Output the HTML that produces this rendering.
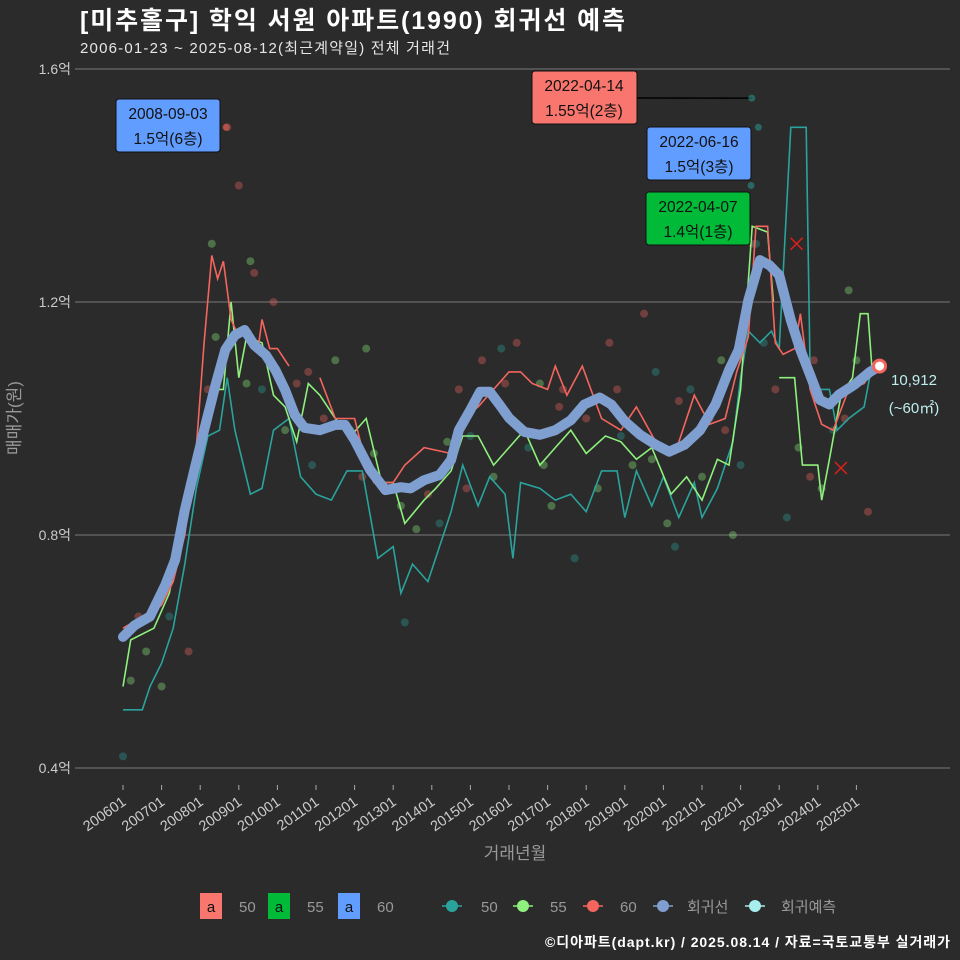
<!DOCTYPE html>
<html><head><meta charset="utf-8">
<style>
body{margin:0;background:#2b2b2b;}
svg{display:block;font-family:"Liberation Sans","Noto Sans CJK KR",sans-serif;}
</style></head>
<body>
<svg id="chart" width="960" height="960" viewBox="0 0 960 960">
<rect width="960" height="960" fill="#2b2b2b"/>
<text x="80" y="29" font-size="25" font-weight="bold" fill="#ffffff" textLength="545">[미추홀구] 학익 서원 아파트(1990) 회귀선 예측</text>
<text x="80" y="53" font-size="15" fill="#e6e6e6" textLength="370">2006-01-23 ~ 2025-08-12(최근계약일) 전체 거래건</text>
<g id="grid"></g>
<g id="marks"></g>
<g id="annot"></g>
<text transform="translate(20,418) rotate(-90)" text-anchor="middle" font-size="17" fill="#999">매매가(원)</text>
<text x="515" y="859" text-anchor="middle" font-size="17" fill="#999">거래년월</text>
<g id="legend"></g>
<text x="950" y="947" text-anchor="end" font-size="14" font-weight="bold" fill="#ffffff" textLength="405">©디아파트(dapt.kr) / 2025.08.14 / 자료=국토교통부 실거래가</text>
</svg>
<script>
const yTicks=[0.4,0.8,1.2,1.6];
const yTickLabels=["0.4억","0.8억","1.2억","1.6억"];
const xTickYears=[2006,2007,2008,2009,2010,2011,2012,2013,2014,2015,2016,2017,2018,2019,2020,2021,2022,2023,2024,2025];
const xTickLabels=["200601","200701","200801","200901","201001","201101","201201","201301","201401","201501","201601","201701","201801","201901","202001","202101","202201","202301","202401","202501"];
const regT=[2006.0,2006.3,2006.7,2007.1,2007.35,2007.6,2007.85,2008.1,2008.4,2008.65,2008.9,2009.15,2009.4,2009.7,2009.95,2010.2,2010.45,2010.7,2011.1,2011.5,2011.75,2012.0,2012.4,2012.8,2013.2,2013.45,2013.8,2014.2,2014.5,2014.7,2015.0,2015.25,2015.5,2015.75,2016.0,2016.4,2016.8,2017.2,2017.6,2017.95,2018.35,2018.65,2019.0,2019.4,2019.8,2020.15,2020.55,2020.95,2021.35,2021.7,2021.95,2022.2,2022.5,2022.75,2023.0,2023.3,2023.55,2023.8,2024.05,2024.3,2024.55,2024.95,2025.35,2025.6];
const regV=[0.625,0.645,0.66,0.715,0.757,0.843,0.912,0.98,1.058,1.118,1.143,1.152,1.126,1.109,1.083,1.049,1.006,0.984,0.98,0.989,0.989,0.963,0.912,0.877,0.882,0.88,0.894,0.903,0.929,0.98,1.015,1.046,1.046,1.024,1.001,0.977,0.972,0.98,0.997,1.024,1.036,1.024,0.995,0.972,0.955,0.943,0.955,0.98,1.024,1.083,1.118,1.203,1.272,1.263,1.246,1.169,1.118,1.075,1.032,1.024,1.041,1.058,1.08,1.09];
const s60T=[2006.0,2006.5,2007.0,2007.3,2007.6,2007.9,2008.1,2008.3,2008.45,2008.6,2008.8,2009.0,2009.3,2009.5,2009.6,2009.8,2010.0,2010.3,null,2011.1,2011.5,2012.0,2012.3,2012.5,2013.0,2013.3,2013.8,2014.5,2014.8,2015.2,2015.6,2016.0,2016.3,2016.6,2017.0,2017.2,2017.5,2017.9,2018.4,2018.9,2019.3,2019.8,2020.3,2020.8,2021.2,2021.6,2021.9,2022.2,2022.4,2022.7,2022.9,2023.1,2023.4,2023.55,2023.8,2024.1,2024.4,2024.8,2025.2,2025.5];
const s60V=[0.64,0.66,0.68,0.72,0.8,0.95,1.13,1.28,1.24,1.27,1.17,1.14,1.15,1.12,1.17,1.12,1.12,1.09,null,1.07,1.0,1.0,0.92,0.89,0.89,0.92,0.95,0.94,1.0,1.02,1.05,1.08,1.08,1.06,1.05,1.09,1.04,1.09,1.0,0.98,1.02,0.96,0.94,1.04,0.99,1.0,1.08,1.14,1.33,1.33,1.13,1.11,1.12,1.18,1.05,0.99,0.98,1.05,1.06,1.09];
const s55T=[2006.0,2006.2,2006.8,2007.2,2007.5,2007.8,2008.1,2008.4,2008.6,2008.8,2009.0,2009.2,2009.6,2009.9,2010.2,2010.5,2010.8,2011.1,2011.5,2011.9,2012.3,2012.7,2013.0,2013.3,2013.8,2014.1,2014.5,2014.8,2015.2,2015.6,2016.0,2016.4,2016.8,2017.2,2017.6,2018.0,2018.5,2018.9,2019.3,2019.7,2020.2,2020.6,2021.0,2021.4,2021.7,2022.0,2022.3,2022.7,2022.85,null,2023.0,2023.4,2023.6,2024.0,2024.1,2024.3,2024.6,2024.9,2025.1,2025.3,2025.4];
const s55V=[0.54,0.62,0.64,0.7,0.8,0.92,0.98,1.05,1.05,1.2,1.07,1.14,1.13,1.04,1.02,0.96,1.06,1.04,1.0,0.97,1.0,0.89,0.89,0.82,0.86,0.88,0.91,0.97,0.97,0.92,0.95,0.98,0.92,0.95,0.98,0.94,0.97,0.96,0.93,0.95,0.87,0.9,0.86,0.93,0.92,1.05,1.33,1.32,1.2,null,1.07,1.07,0.92,0.92,0.86,0.93,1.04,1.07,1.18,1.18,1.09];
const s50T=[2006.0,2006.5,2006.7,2007.0,2007.3,2007.6,2007.9,2008.2,2008.5,2008.7,2008.9,2009.3,2009.6,2009.9,2010.3,2010.6,2011.0,2011.4,2011.8,2012.2,2012.6,2013.0,2013.2,2013.5,2013.9,2014.2,2014.5,2014.8,2015.2,2015.5,2015.9,2016.1,2016.3,2016.8,2017.2,2017.6,2018.0,2018.4,2018.8,2019.0,2019.3,2019.7,2020.0,2020.4,2020.8,2021.0,2021.4,2021.8,2022.0,2022.2,2022.5,2022.8,2023.0,2023.3,2023.7,2023.8,2024.0,2024.3,2024.5,2024.8,2025.2,2025.4];
const s50V=[0.5,0.5,0.54,0.58,0.64,0.75,0.88,0.97,0.98,1.07,0.98,0.87,0.88,0.98,1.0,0.9,0.87,0.86,0.91,0.91,0.76,0.78,0.7,0.75,0.72,0.78,0.84,0.92,0.85,0.9,0.87,0.76,0.89,0.88,0.86,0.87,0.84,0.91,0.91,0.83,0.91,0.85,0.9,0.83,0.89,0.83,0.88,0.96,1.07,1.15,1.13,1.15,1.12,1.5,1.5,1.08,1.05,1.05,0.98,1.0,1.02,1.09];
const dotT=[2006.0,2006.2,2006.4,2006.6,2006.9,2007.0,2007.2,2007.5,2007.7,2007.9,2008.2,2008.4,2008.7,2009.0,2009.2,2009.3,2009.6,2009.9,2010.2,2010.5,2010.9,2011.2,2011.5,2011.9,2012.2,2012.5,2012.9,2013.3,2013.6,2013.9,2014.2,2014.4,2014.7,2015.0,2015.3,2015.6,2015.9,2016.2,2016.5,2016.8,2017.1,2017.4,2017.7,2018.0,2018.3,2018.6,2018.9,2019.2,2019.5,2019.8,2020.1,2020.4,2020.7,2021.0,2021.2,2021.5,2021.8,2022.0,2022.3,2022.6,2022.9,2023.2,2023.5,2023.8,2024.1,2024.4,2024.7,2025.0,2025.3,2008.3,2009.4,2010.8,2013.2,2015.8,2016.9,2018.8,2020.3,2021.6,2022.4,2023.9,2024.8,2012.3,2014.9,2017.3,2019.7];
const dotV=[0.42,0.55,0.66,0.6,0.68,0.54,0.66,0.8,0.6,0.92,1.05,1.14,1.5,1.4,1.06,1.27,1.05,1.2,0.98,1.06,0.92,1.0,1.1,0.98,0.9,0.94,0.88,0.65,0.81,0.87,0.82,0.96,1.05,0.97,1.1,0.9,1.06,1.13,0.95,1.06,0.85,1.05,0.76,1.0,0.88,1.13,0.97,0.92,1.18,1.08,0.82,1.03,1.05,0.9,1.0,1.1,0.8,0.92,1.3,1.13,1.05,0.83,0.95,0.9,0.88,0.98,1.0,1.1,0.84,1.3,1.25,1.08,0.85,1.12,0.92,1.05,0.78,0.98,1.3,1.1,1.22,1.12,0.88,1.02,0.93];
const dotS=[50,55,60,55,60,55,50,55,60,55,60,55,60,60,55,55,50,60,55,60,50,60,55,50,60,55,50,50,55,60,50,55,60,50,60,55,60,60,50,55,55,60,50,60,55,60,50,55,60,50,55,60,50,55,60,55,55,50,60,50,60,50,55,60,55,50,60,55,60,55,60,60,55,50,55,60,50,60,50,60,55,55,60,60,55];
const labels=[["2008-09-03","1.5억(6층)",2008.67,1.5,"#619cff"],["2022-04-14","1.55억(2층)",2022.29,1.55,"#f8766d"],["2022-06-16","1.5억(3층)",2022.46,1.5,"#619cff"],["2022-04-07","1.4억(1층)",2022.27,1.4,"#00ba38"]];

const NS="http://www.w3.org/2000/svg";
const X0=75,X1=950;
function xs(t){return 123+(t-2006)*38.6;}
function ys(v){return 768-(v-0.4)*582.5;}
function mk(tag,attrs,parent){const e=document.createElementNS(NS,tag);for(const k in attrs)e.setAttribute(k,attrs[k]);parent.appendChild(e);return e;}
const grid=document.getElementById('grid'),marks=document.getElementById('marks'),annot=document.getElementById('annot'),legend=document.getElementById('legend');
yTicks.forEach((v,i)=>{
  const l=mk('line',{x1:X0,x2:X1,y1:ys(v),y2:ys(v),stroke:'#7a7a7a','stroke-width':1},grid);
  
  
  const t=mk('text',{x:71,y:ys(v)+5,'text-anchor':'end','font-size':14,fill:'#cccccc'},grid);
  t.textContent=yTickLabels[i];
  
  
});
xTickYears.forEach((yr,i)=>{
  const x=xs(yr);
  const tk=mk('line',{x1:x,x2:x,y1:785,y2:790,stroke:'#aaa'},grid);
  
  
  const t=mk('text',{transform:`translate(${x+4},${804}) rotate(-35)`,'text-anchor':'end','font-size':14.5,fill:'#cccccc'},grid);
  t.textContent=xTickLabels[i];
  
  
});
const col={50:'#2aa39c',55:'#8ef07d',60:'#f4655e'};
dotT.forEach((t,i)=>{
  const c=mk('circle',{cx:xs(t),cy:ys(dotV[i]),r:4,fill:col[dotS[i]],'fill-opacity':0.35},marks);
  
  
});
function pathOf(T,V){let d='',pen=false;T.forEach((t,i)=>{if(t===null){pen=false;return;}d+=(pen?'L':'M')+xs(t).toFixed(1)+' '+ys(V[i]).toFixed(1);pen=true;});return d;}
[[s50T,s50V,50],[s55T,s55V,55],[s60T,s60V,60]].forEach(([T,V,s])=>{
  const p=mk('path',{d:pathOf(T,V),fill:'none',stroke:col[s],'stroke-width':1.6},marks);
  
  
});
const reg=mk('path',{d:pathOf(regT,regV),fill:'none',stroke:'#7f9fd0','stroke-width':10,'stroke-linejoin':'round','stroke-linecap':'round'},marks);


const endT=regT[regT.length-1],endV=regV[regV.length-1];
const ep=mk('circle',{cx:xs(endT),cy:ys(endV),r:6,fill:'#ffffff',stroke:'#f4655e','stroke-width':3},marks);


const el1=mk('text',{x:914,y:ys(endV)+19,'text-anchor':'middle','font-size':15,fill:'#bfeeee'},marks);
el1.textContent='10,912';


const el2=mk('text',{x:914,y:ys(endV)+47,'text-anchor':'middle','font-size':15,fill:'#bfeeee'},marks);
el2.textContent='(~60㎡)';


[[2023.45,1.3],[2024.6,0.915]].forEach(([t,v])=>{
  const x=xs(t),y=ys(v);
  const m=mk('path',{d:`M${x-6} ${y-6}L${x+6} ${y+6}M${x-6} ${y+6}L${x+6} ${y-6}`,stroke:'#e0201a','stroke-width':1.5},marks);
  
  
});
const boxPos=[[116,99],[532,71],[647,127],[646,192]];
labels.forEach((L,i)=>{
  const [bx,by]=boxPos[i];
  const px=xs(L[2]),py=ys(L[3]);
  if(i===1){const ln=mk('line',{x1:bx+105,y1:by+27,x2:px,y2:py,stroke:'#000','stroke-width':1.5},annot);
    
    }
  const pt=mk('circle',{cx:px,cy:py,r:3.5,fill:i===0?'#f4655e':'#2aa39c','fill-opacity':0.5},annot);
  
  
  const g=mk('g',{},annot);
  
  
  mk('rect',{x:bx,y:by,width:i===1?105:104,height:53,rx:3,fill:L[4],stroke:'#111','stroke-width':1},g);
  const t1=mk('text',{x:bx+52,y:by+20,'text-anchor':'middle','font-size':15.5,fill:'#111'},g);t1.textContent=L[0];
  const t2=mk('text',{x:bx+52,y:by+45,'text-anchor':'middle','font-size':15.5,fill:'#111'},g);t2.textContent=L[1];
});
[[200,'#f8766d','50'],[268,'#00ba38','55'],[338,'#619cff','60']].forEach(([x,c,lab])=>{
  const g=mk('g',{},legend);
  
  
  mk('rect',{x:x,y:893,width:22,height:26,fill:c},g);
  const a=mk('text',{x:x+11,y:912,'text-anchor':'middle','font-size':15,fill:'#111'},g);a.textContent='a';
  const t=mk('text',{x:x+39,y:912,'font-size':15,fill:'#999'},g);t.textContent=lab;
});
[[452,481,'#2aa39c','50'],[523,550,'#8ef07d','55'],[593,620,'#f4655e','60'],[663,687,'#7f9fd0','회귀선'],[755,781,'#a8eeee','회귀예측']].forEach(([x,lx,c,lab])=>{
  const g=mk('g',{},legend);
  
  
  mk('line',{x1:x-10,x2:x+10,y1:906,y2:906,stroke:c,'stroke-width':1.5},g);
  mk('circle',{cx:x,cy:906,r:6,fill:c},g);
  const t=mk('text',{x:lx,y:912,'font-size':15,fill:'#999'},g);t.textContent=lab;
});
</script>
</body></html>
